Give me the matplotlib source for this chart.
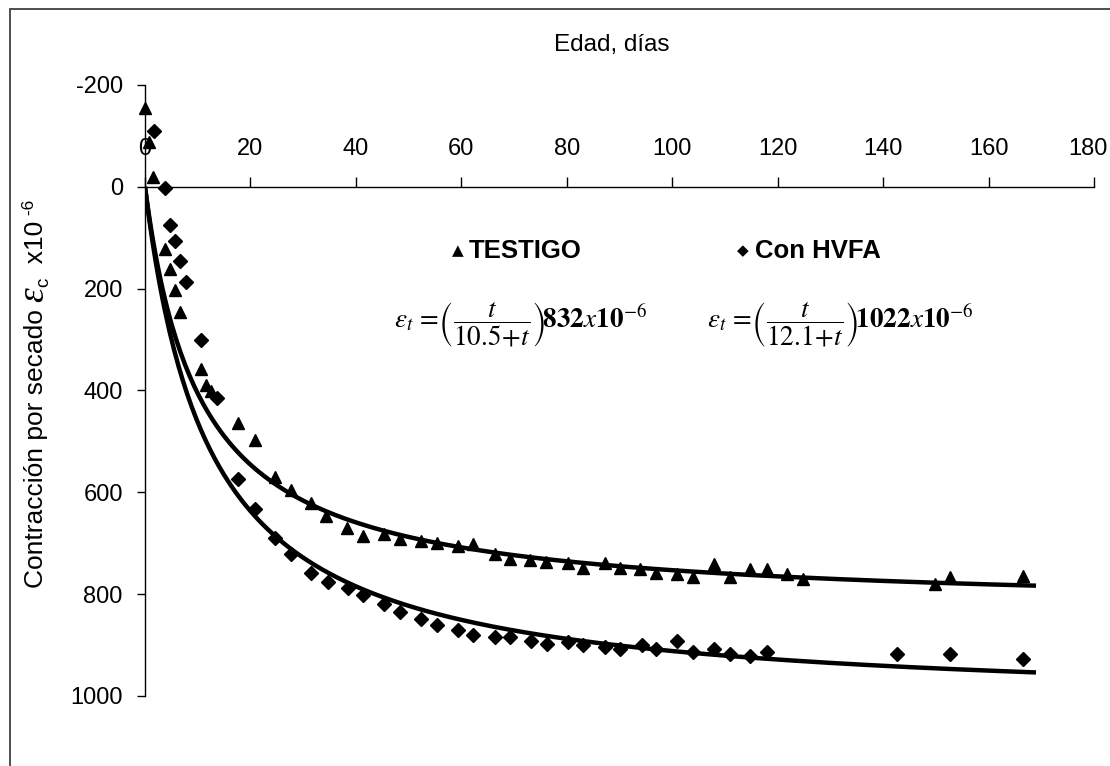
import matplotlib
matplotlib.use("Agg")
import matplotlib.pyplot as plt
from matplotlib.patches import Rectangle
from matplotlib.transforms import ScaledTranslation
import numpy as np

plt.rcParams['font.family'] = ['Liberation Sans', 'DejaVu Sans']
plt.rcParams['axes.unicode_minus'] = False

# ---- data ----
testigo_t = [0, 0.85, 1.6, 3.7, 4.8, 5.7, 6.7, 10.7, 11.6, 12.6, 17.6, 20.8,
             24.6, 27.7, 31.5, 34.4, 38.4, 41.4, 45.4, 48.3, 52.4, 55.3, 59.4,
             62.2, 66.3, 69.2, 73.0, 76.1, 80.2, 83.1, 87.2, 90.0, 93.8, 97.0,
             101.0, 104.0, 108.0, 111.0, 114.8, 118.0, 121.7, 124.8, 149.8,
             152.7, 166.6]
testigo_e = [-154, -89, -19, 122, 161, 202, 246, 357, 390, 401, 463, 498,
             570, 596, 621, 646, 670, 686, 682, 691, 695, 699, 705,
             701, 722, 730, 733, 737, 738, 748, 738, 748, 751, 758,
             761, 767, 741, 767, 751, 751, 761, 771, 780,
             767, 765]

hvfa_t = [1.8, 3.8, 4.8, 5.7, 6.7, 7.8, 10.7, 13.6, 17.6, 20.8, 24.6, 27.6,
          31.5, 34.7, 38.5, 41.3, 45.4, 48.3, 52.4, 55.4, 59.4, 62.3, 66.3,
          69.3, 73.3, 76.2, 80.2, 83.1, 87.2, 90.0, 94.2, 97.0, 101.0, 104.0,
          107.9, 111.0, 114.8, 117.9, 142.7, 152.7, 166.6]
hvfa_e = [-110, 3, 75, 107, 146, 186, 301, 415, 573, 633, 689, 721,
          758, 776, 787, 802, 820, 835, 848, 861, 871, 880, 885,
          885, 891, 897, 893, 900, 903, 908, 900, 908, 891, 914,
          908, 918, 921, 914, 918, 918, 927]

# fitted model parameters shown on the chart: eps = t/(a+t) * eu
fit_testigo = (10.5, 832)
fit_hvfa = (12.1, 1022)
fit_tmax = 169

x_ticks = [0, 20, 40, 60, 80, 100, 120, 140, 160, 180]
y_ticks = [-200, 0, 200, 400, 600, 800, 1000]

W, H = 1110, 766
fig = plt.figure(figsize=(W / 100, H / 100), dpi=100)
fig.patch.set_facecolor('white')

# outer frame
fig.patches.append(Rectangle((10 / W, -0.05), 1.2, 1 - 9 / H + 0.05,
                             transform=fig.transFigure, fill=False,
                             edgecolor='#404040', linewidth=1.3))

ax = fig.add_axes([145 / W, 1 - 696 / H, (1094 - 145) / W, (696 - 85) / H])
ax.set_facecolor('none')
ax.set_xlim(0, 180)
ax.set_ylim(1000, -200)

for s in ['right', 'bottom']:
    ax.spines[s].set_visible(False)
ax.spines['top'].set_position(('data', 0))
ax.spines['top'].set_linewidth(1.0)
ax.spines['left'].set_linewidth(1.0)

ax.xaxis.set_ticks_position('top')
ax.set_xticks(x_ticks)
ax.set_yticks(y_ticks)
ax.tick_params(axis='x', direction='out', length=7, width=1, pad=12,
               labelsize=17)
ax.tick_params(axis='y', direction='out', length=6, width=1, pad=10,
               labelsize=17)

fig.canvas.draw()
renderer = fig.canvas.get_renderer()
# keep the last x tick label inside the figure
last = ax.get_xticklabels()[-1]
last.set_transform(last.get_transform() +
                   ScaledTranslation(-6 / 100, 0, fig.dpi_scale_trans))

tt = np.linspace(0, fit_tmax, 400)
a, eu = fit_testigo
ax.plot(tt, tt / (a + tt) * eu, color='black', lw=3.2, solid_capstyle='butt')
a, eu = fit_hvfa
ax.plot(tt, tt / (a + tt) * eu, color='black', lw=3.2, solid_capstyle='butt')

ax.plot(testigo_t, testigo_e, linestyle='none', marker='^', ms=9,
        color='black', clip_on=False)
ax.plot(hvfa_t, hvfa_e, linestyle='none', marker='D', ms=7.5,
        color='black', clip_on=False)

# title on top
fig.text(612 / W, 1 - 45 / H, 'Edad, días', ha='center', va='center',
         fontsize=17.5)

# rotated y label built from pieces (large epsilon, subscript, superscript)
base_x = 43          # pixel x of the baseline
cur_y = 588          # pixel y (from top) where the label starts
pieces = [
    ('Contracción por secado ', 19, 0, ['Liberation Sans'], 'normal'),
    ('ε', 27, 0, ['Liberation Serif'], 'italic'),
    ('c', 13.5, 5, ['Liberation Sans'], 'normal'),
    ('  x10', 19, 0, ['Liberation Sans'], 'normal'),
    (' -6', 12.5, -9, ['Liberation Sans'], 'normal'),
]
for txt, fs, dx, fam, sty in pieces:
    t = fig.text((base_x + dx) / W, 1 - cur_y / H, txt, rotation=90,
                 rotation_mode='anchor', ha='left', va='baseline',
                 fontsize=fs, family=fam, style=sty)
    bb = t.get_window_extent(renderer)
    cur_y -= bb.height

# legend-like annotations
fig.text(452 / W, 1 - 251 / H, '▲', ha='left', va='center', fontsize=11,
         family=['DejaVu Sans'])
fig.text(469 / W, 1 - 251 / H, 'TESTIGO', ha='left', va='center',
         fontsize=18.5, fontweight='bold')
fig.text(737 / W, 1 - 251 / H, '◆', ha='left', va='center', fontsize=11,
         family=['DejaVu Sans'])
fig.text(755 / W, 1 - 251 / H, 'Con HVFA', ha='left', va='center',
         fontsize=18.5, fontweight='bold')

fig.text(520 / W, 1 - 325 / H,
         r'$\varepsilon_t\,=\!\left(\dfrac{t}{10.5\!+\!t}\right)\!\mathbf{832}x\mathbf{10}^{-6}$',
         ha='center', va='center', fontsize=19.5, math_fontfamily='stix')
fig.text(840 / W, 1 - 325 / H,
         r'$\varepsilon_t\,=\!\left(\dfrac{t}{12.1\!+\!t}\right)\!\mathbf{1022}x\mathbf{10}^{-6}$',
         ha='center', va='center', fontsize=19.5, math_fontfamily='stix')

fig.savefig('out.png', dpi=100, facecolor='white')
